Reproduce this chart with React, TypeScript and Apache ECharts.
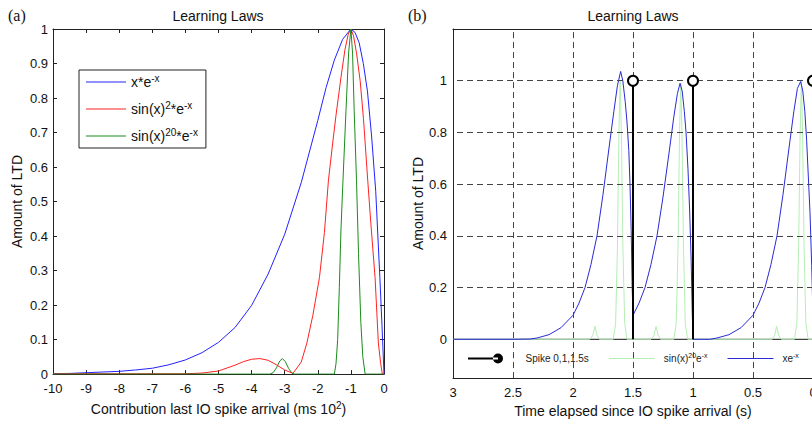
import React, { useEffect, useRef } from 'react';
import * as echarts from 'echarts';

const FONT = '"Liberation Sans", Arial, sans-serif';

// ---------- Panel (a) data ----------
const blueLeft: number[][] = [
  [-10, 0.0012], [-9.5, 0.002], [-9, 0.004], [-8.5, 0.006], [-8, 0.008], [-7.5, 0.012],
  [-7, 0.017], [-6.5, 0.027], [-6, 0.041], [-5.5, 0.062], [-5, 0.092], [-4.5, 0.135],
  [-4, 0.199], [-3.5, 0.29], [-3, 0.405], [-2.5, 0.555], [-2, 0.735], [-1.75, 0.83],
  [-1.5, 0.91], [-1.25, 0.97], [-1, 1.0], [-0.875, 0.99], [-0.75, 0.96], [-0.625, 0.9],
  [-0.5, 0.82], [-0.375, 0.69], [-0.25, 0.53], [-0.125, 0.28], [-0.06, 0.14], [0, 0],
];
const redLeft: number[][] = [
  [-10, 0.001], [-9, 0.001], [-8, 0.001], [-7, 0.001], [-6, 0.001], [-5.5, 0.003],
  [-5, 0.009], [-4.5, 0.026], [-4.25, 0.036], [-4, 0.043], [-3.75, 0.045], [-3.5, 0.04],
  [-3.25, 0.027], [-3, 0.012], [-2.75, 0.002], [-2.5, 0.035], [-2.33, 0.09], [-2.15, 0.17],
  [-1.95, 0.28], [-1.8, 0.41], [-1.68, 0.56], [-1.55, 0.67], [-1.45, 0.75], [-1.3, 0.86],
  [-1.18, 0.94], [-1.08, 0.985], [-1, 1.0], [-0.92, 0.98], [-0.83, 0.93], [-0.72, 0.85],
  [-0.62, 0.74], [-0.49, 0.56], [-0.4, 0.44], [-0.27, 0.28], [-0.17, 0.09], [-0.1, 0.03],
  [-0.05, 0], [0, 0],
];
const greenLeft: number[][] = [
  [-10, 0], [-3.45, 0], [-3.35, 0.004], [-3.25, 0.018], [-3.15, 0.038], [-3.07, 0.045],
  [-2.98, 0.036], [-2.88, 0.016], [-2.78, 0.003], [-2.7, 0], [-1.5, 0], [-1.45, 0.03],
  [-1.4, 0.1], [-1.35, 0.25], [-1.3, 0.42], [-1.24, 0.56], [-1.15, 0.76], [-1.07, 0.93],
  [-1, 1.0], [-0.95, 0.93], [-0.9, 0.76], [-0.83, 0.56], [-0.77, 0.35], [-0.7, 0.15],
  [-0.64, 0.05], [-0.57, 0], [0, 0],
];
const leftNames = ['x*e^-x', 'sin(x)^2*e^-x', 'sin(x)^20*e^-x'];
const leftLabels: Record<string, string> = {
  'x*e^-x': '{n|x*e}{s|-x}',
  'sin(x)^2*e^-x': '{n|sin(x)}{s|2}{n|*e}{s|-x}',
  'sin(x)^20*e^-x': '{n|sin(x)}{s|20}{n|*e}{s|-x}',
};

// ---------- Panel (b) data ----------
const blueRight: number[][] = [
  [3, 0], [2.7, 0], [2.5, 0], [2.36, 0.001], [2.3, 0.005], [2.2, 0.018], [2.1, 0.045],
  [2.0, 0.093], [1.95, 0.14], [1.9, 0.2], [1.85, 0.29], [1.8, 0.4], [1.75, 0.56],
  [1.7, 0.74], [1.66, 0.88], [1.63, 0.98], [1.603, 1.036], [1.585, 1.0], [1.565, 0.92],
  [1.55, 0.84], [1.535, 0.73], [1.525, 0.6], [1.515, 0.42], [1.507, 0.2], [1.5, 0.093],
  [1.45, 0.14], [1.4, 0.2], [1.35, 0.29], [1.3, 0.4], [1.25, 0.55], [1.2, 0.72],
  [1.16, 0.86], [1.13, 0.95], [1.108, 0.99], [1.09, 0.96], [1.072, 0.88], [1.058, 0.8],
  [1.042, 0.66], [1.028, 0.5], [1.015, 0.3], [1.006, 0.1], [1.0, 0],
  [0.86, 0], [0.8, 0.005], [0.7, 0.018], [0.6, 0.045], [0.5, 0.093], [0.45, 0.14],
  [0.4, 0.2], [0.35, 0.29], [0.3, 0.4], [0.25, 0.56], [0.2, 0.74], [0.16, 0.88],
  [0.13, 0.97], [0.103, 0.997], [0.085, 0.96], [0.068, 0.88], [0.053, 0.77],
  [0.038, 0.62], [0.025, 0.49], [0.011, 0.285], [0, 0.093],
];
const greenRight: number[][] = [
  [3, 0], [1.86, 0], [1.835, 0.015], [1.817, 0.05], [1.8, 0.015], [1.78, 0],
  [1.665, 0], [1.645, 0.06], [1.63, 0.35], [1.617, 0.8], [1.607, 1.0], [1.597, 0.8],
  [1.584, 0.35], [1.569, 0.06], [1.55, 0],
  [1.35, 0], [1.325, 0.015], [1.308, 0.05], [1.29, 0.015], [1.27, 0],
  [1.16, 0], [1.14, 0.06], [1.125, 0.35], [1.112, 0.8], [1.102, 0.99], [1.092, 0.8],
  [1.079, 0.35], [1.064, 0.06], [1.045, 0],
  [0.34, 0], [0.32, 0.015], [0.303, 0.05], [0.285, 0.015], [0.265, 0],
  [0.155, 0], [0.135, 0.06], [0.12, 0.35], [0.107, 0.8], [0.097, 1.0], [0.087, 0.8],
  [0.074, 0.35], [0.059, 0.06], [0.04, 0], [0, 0],
];
const spikeTimes = [1.5, 1, 0];
const spikeHeight = 1;
const baselineData: number[][] = [[3, 0], [0, 0]];
const gridXValues = [2.5, 2, 1.5, 1, 0.5];
const gridYValues = [0.2, 0.4, 0.6, 0.8, 1];
const rightNames = ['Spike 0,1,1.5s', 'sin(x)^20e^-x', 'xe^-x'];
const rightLabels: Record<string, string> = {
  'Spike 0,1,1.5s': '{p|Spike 0,1,1.5s}',
  'sin(x)^20e^-x': '{q|sin(x)}{s|20}{n|e}{s|-x}',
  'xe^-x': '{q|xe}{s|-x}',
};

const AXIS_COLOR = '#222';
const GRID_COLOR = '#444';
const LINE_ICON = 'path://M0,0 L46,0 L46,1.2 L0,1.2 Z';
const LINE_ICON_L = 'path://M0,0 L40,0 L40,1.2 L0,1.2 Z';
const SPIKE_ICON = 'path://M0,3.6 L30,3.6 L30,5.4 L0,5.4 Z M25,4.5 A5,5 0 1,0 35,4.5 A5,5 0 1,0 25,4.5 Z';

function buildOption(): any {
  const tickLabel = { fontFamily: FONT, fontSize: 13, color: '#111' };
  const nameStyle = {
    fontFamily: FONT,
    fontSize: 14,
    color: '#111',
    rich: {
      n: { fontFamily: FONT, fontSize: 14, lineHeight: 18, color: '#111' },
      s: { fontFamily: FONT, fontSize: 10, lineHeight: 10, padding: [0, 0, 8, 0], color: '#111' },
    },
  };
  const boxAxis = (extra: any) => ({
    type: 'value',
    axisLine: { show: true, onZero: false, lineStyle: { color: AXIS_COLOR, width: 1 } },
    splitLine: { show: false },
    ...extra,
  });

  const spikeSeries = spikeTimes.map((t) => ({
    name: rightNames[0],
    type: 'line',
    xAxisIndex: 2,
    yAxisIndex: 2,
    z: 6,
    symbol: 'circle',
    symbolSize: 10,
    showSymbol: true,
    lineStyle: { color: '#000', width: 2 },
    itemStyle: { color: '#fff', borderColor: '#000', borderWidth: 2 },
    data: [
      { value: [t, 0], symbol: 'none' },
      { value: [t, spikeHeight] },
    ],
  }));

  return {
    animation: false,
    backgroundColor: '#fff',
    textStyle: { fontFamily: FONT },
    grid: [
      { left: 53, top: 29, width: 331, height: 349 },
      { left: 453, top: 29, width: 360, height: 350 },
    ],
    xAxis: [
      boxAxis({
        gridIndex: 0, min: -10, max: 0, interval: 1, position: 'bottom',
        axisTick: { show: true, inside: true, length: 4, lineStyle: { color: AXIS_COLOR } },
        axisLabel: { ...tickLabel, margin: 8 },
        name: '{n|Contribution last IO spike arrival (ms 10}{s|2}{n|)}',
        nameLocation: 'middle', nameGap: 22, nameTextStyle: nameStyle,
      }),
      boxAxis({
        gridIndex: 0, min: -10, max: 0, interval: 1, position: 'top',
        axisTick: { show: true, inside: true, length: 4, lineStyle: { color: AXIS_COLOR } },
        axisLabel: { show: false },
      }),
      boxAxis({
        gridIndex: 1, min: 0, max: 3, interval: 0.5, inverse: true, position: 'bottom',
        axisTick: { show: true, inside: true, length: 4, lineStyle: { color: AXIS_COLOR } },
        axisLabel: { ...tickLabel, margin: 8 },
        name: 'Time elapsed since IO spike arrival (s)',
        nameLocation: 'middle', nameGap: 25, nameTextStyle: { fontFamily: FONT, fontSize: 14, color: '#111' },
      }),
      boxAxis({
        gridIndex: 1, min: 0, max: 3, interval: 0.5, inverse: true, position: 'top',
        axisTick: { show: false },
        axisLabel: { show: false },
      }),
    ],
    yAxis: [
      boxAxis({
        gridIndex: 0, min: 0, max: 1, interval: 0.1, position: 'left',
        axisTick: { show: true, inside: true, length: 4, lineStyle: { color: AXIS_COLOR } },
        axisLabel: { ...tickLabel, margin: 5 },
        name: 'Amount of LTD', nameLocation: 'middle', nameGap: 29,
        nameTextStyle: { fontFamily: FONT, fontSize: 14, color: '#111' },
      }),
      boxAxis({
        gridIndex: 0, min: 0, max: 1, interval: 0.1, position: 'right',
        axisTick: { show: true, inside: true, length: 4, lineStyle: { color: AXIS_COLOR } },
        axisLabel: { show: false },
      }),
      boxAxis({
        gridIndex: 1, min: -0.15, max: 1.2, interval: 0.05, position: 'left',
        axisTick: { show: false },
        axisLabel: {
          ...tickLabel, margin: 6,
          formatter: (v: number) => {
            const r = Math.round(v * 100) / 100;
            if (r >= 0 && r <= 1 && Math.abs(r * 5 - Math.round(r * 5)) < 1e-6) return String(r);
            return '';
          },
        },
        name: 'Amount of LTD', nameLocation: 'middle', nameGap: 28,
        nameTextStyle: { fontFamily: FONT, fontSize: 14, color: '#111' },
      }),
      boxAxis({
        gridIndex: 1, min: -0.15, max: 1.2, interval: 0.05, position: 'right',
        axisTick: { show: false },
        axisLabel: { show: false },
      }),
    ],
    legend: [
      {
        orient: 'vertical', left: 79, top: 70,
        padding: [3, 8, 3, 7], itemGap: 9, itemWidth: 40, itemHeight: 14,
        borderColor: '#222', borderWidth: 1, backgroundColor: '#fff',
        selectedMode: false,
        data: leftNames.map((n) => ({ name: n, icon: LINE_ICON_L })),
        formatter: (n: string) => leftLabels[n] || n,
        textStyle: {
          fontFamily: FONT, fontSize: 14, color: '#111',
          rich: {
            n: { fontFamily: FONT, fontSize: 14, lineHeight: 18, color: '#111' },
            s: { fontFamily: FONT, fontSize: 10, lineHeight: 10, padding: [0, 0, 8, 0], color: '#111' },
          },
        },
      },
      {
        orient: 'horizontal', left: 468, top: 352,
        padding: 0, itemGap: 20, itemWidth: 46, itemHeight: 10,
        selectedMode: false,
        data: [
          { name: rightNames[0], icon: SPIKE_ICON, itemStyle: { color: '#000', borderWidth: 0 } },
          { name: rightNames[1], icon: LINE_ICON },
          { name: rightNames[2], icon: LINE_ICON },
        ],
        formatter: (n: string) => rightLabels[n] || n,
        textStyle: {
          fontFamily: FONT, fontSize: 10, color: '#222',
          rich: {
            p: { fontFamily: FONT, fontSize: 10, lineHeight: 14, padding: [0, 0, 0, 12], color: '#222' },
            q: { fontFamily: FONT, fontSize: 10, lineHeight: 14, padding: [0, 0, 0, 4], color: '#222' },
            n: { fontFamily: FONT, fontSize: 10, lineHeight: 14, color: '#222' },
            s: { fontFamily: FONT, fontSize: 7, lineHeight: 8, padding: [0, 0, 6, 0], color: '#222' },
          },
        },
      },
    ],
    graphic: [
      { type: 'text', left: 8, top: 7, style: { text: '(a)', font: '16px "Liberation Serif", serif', fill: '#111' } },
      { type: 'text', left: 408, top: 7, style: { text: '(b)', font: '16px "Liberation Serif", serif', fill: '#111' } },
      {
        type: 'text', x: 218, y: 16,
        style: { text: 'Learning Laws', font: '14px "Liberation Sans", Arial, sans-serif', fill: '#111', align: 'center', verticalAlign: 'middle', textAlign: 'center', textVerticalAlign: 'middle' },
      },
      {
        type: 'text', x: 633, y: 16,
        style: { text: 'Learning Laws', font: '14px "Liberation Sans", Arial, sans-serif', fill: '#111', align: 'center', verticalAlign: 'middle', textAlign: 'center', textVerticalAlign: 'middle' },
      },
    ],
    series: [
      { name: leftNames[0], type: 'line', xAxisIndex: 0, yAxisIndex: 0, data: blueLeft, symbol: 'none', lineStyle: { color: '#2222ff', width: 1 }, itemStyle: { color: '#2222ff' }, z: 2 },
      { name: leftNames[1], type: 'line', xAxisIndex: 0, yAxisIndex: 0, data: redLeft, symbol: 'none', lineStyle: { color: '#ff2222', width: 1 }, itemStyle: { color: '#ff2222' }, z: 3 },
      { name: leftNames[2], type: 'line', xAxisIndex: 0, yAxisIndex: 0, data: greenLeft, symbol: 'none', lineStyle: { color: '#1a8c1a', width: 1 }, itemStyle: { color: '#1a8c1a' }, z: 4 },
      {
        type: 'line', xAxisIndex: 2, yAxisIndex: 2, data: baselineData, symbol: 'none', z: 1,
        lineStyle: { color: '#111', width: 1 },
        markLine: {
          silent: true, symbol: 'none', label: { show: false },
          lineStyle: { color: GRID_COLOR, width: 1, type: [6, 4] },
          data: [
            ...gridXValues.map((v) => ({ xAxis: v })),
            ...gridYValues.map((v) => ({ yAxis: v })),
          ],
        },
      },
      { name: rightNames[1], type: 'line', xAxisIndex: 2, yAxisIndex: 2, data: greenRight, symbol: 'none', lineStyle: { color: '#b4eeb4', width: 1 }, itemStyle: { color: '#b4eeb4' }, z: 3 },
      { name: rightNames[2], type: 'line', xAxisIndex: 2, yAxisIndex: 2, data: blueRight, symbol: 'none', lineStyle: { color: '#2a2ad6', width: 1 }, itemStyle: { color: '#2a2ad6' }, z: 4 },
      ...spikeSeries,
    ],
  };
}

export default function App() {
  const ref = useRef<HTMLDivElement>(null);
  useEffect(() => {
    if (!ref.current) return;
    const chart = echarts.init(ref.current, null, { renderer: 'svg' });
    chart.setOption(buildOption());
    return () => chart.dispose();
  }, []);
  return (
    <div style={{ position: 'fixed', left: 0, top: 0, width: 812, height: 423, overflow: 'hidden', background: '#fff' }}>
      <div ref={ref} style={{ width: 840, height: 423 }} />
    </div>
  );
}
